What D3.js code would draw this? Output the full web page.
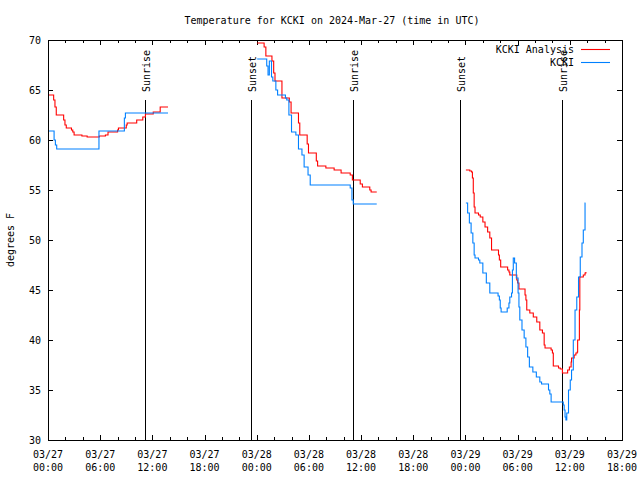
<!DOCTYPE html>
<html>
<head>
<meta charset="utf-8">
<script src="https://cdn.jsdelivr.net/npm/d3@7"></script>
<style>
  body { margin: 0; background: #fff; }
  text { font-family: "DejaVu Sans Mono", monospace; font-size: 10px; fill: #000; }
</style>
</head>
<body>
<div id="chart"></div>
<script>
//Hours after 2024-03-27 00:00 UTC, null breaks the line
var analysisHours = [0.0,0.65,0.8,0.95,1.8,1.95,2.1,2.7,2.85,3.0,3.9,4.5,5.9,6.6,6.9,8.0,8.1,9.0,9.1,10.2,10.9,11.2,12.1,12.9,13.8,
  null,
  24.05,24.85,25.05,25.75,25.95,26.1,26.9,27.75,27.95,28.8,28.95,29.8,29.95,30.85,31.0,31.95,32.9,33.7,34.75,35.0,35.9,36.15,37.0,37.15,37.8,
  null,
  48.05,48.5,48.7,48.8,48.9,49.0,49.1,49.5,49.7,50.0,50.25,50.55,50.8,51.0,51.8,51.9,52.05,52.85,53.0,53.1,53.9,54.0,54.15,54.85,54.95,55.05,
  55.4,55.8,56.2,56.55,56.85,57.05,57.15,57.85,58.0,58.1,58.7,58.9,59.15,59.75,59.95,60.15,60.2,60.5,60.7,60.85,60.9,61.1,61.15,61.55,61.75,61.85]
var analysisTemps = [64.5,64.0,63.3,62.5,62.0,61.5,61.2,61.0,60.8,60.5,60.4,60.3,60.4,60.5,60.8,61.0,61.2,61.5,61.7,62.0,62.3,62.6,62.8,63.3,63.3,
  null,
  69.7,69.3,68.4,67.9,66.7,65.9,64.2,63.8,62.7,61.7,60.5,59.6,58.7,57.9,57.4,57.2,57.0,56.7,56.5,56.0,55.6,55.3,55.0,54.8,54.8,
  null,
  57.0,56.9,56.8,56.2,54.7,53.3,52.7,52.5,52.3,51.8,51.3,50.8,50.2,49.0,48.5,48.0,47.3,47.0,46.8,46.5,46.0,45.7,45.1,44.5,44.0,43.0,
  42.7,42.3,41.8,41.0,40.7,39.5,39.2,39.0,38.7,37.4,37.2,37.1,36.7,37.0,37.3,37.8,38.2,38.5,38.7,38.8,40.0,43.0,46.3,46.5,46.7,46.8]

var obsHours = [0.0,0.7,0.85,1.0,5.86,8.78,8.9,13.8,
  null,
  24.05,25.15,25.3,25.45,25.7,25.85,26.2,26.4,27.3,27.45,27.7,28.0,28.5,28.8,29.2,29.45,29.9,30.15,34.75,34.95,35.1,37.8,
  null,
  48.05,48.25,48.45,48.65,48.85,49.0,49.1,49.5,49.65,50.0,50.4,50.8,51.75,51.9,52.0,52.1,52.8,53.0,53.1,53.3,53.4,53.5,53.65,53.85,
  54.05,54.15,54.25,54.5,54.75,54.95,55.15,55.35,55.75,56.15,56.55,56.75,57.55,57.7,57.85,59.25,59.35,59.45,59.55,59.65,59.85,
  60.05,60.2,60.4,60.6,60.8,61.0,61.2,61.4,61.55,61.75,61.8]
var obsTemps = [60.9,60.0,59.5,59.1,60.9,62.2,62.7,62.7,
  null,
  68.1,67.4,66.5,67.9,66.3,65.9,65.0,64.5,64.2,64.0,62.5,60.8,60.5,59.1,58.5,57.3,56.5,55.5,55.2,54.0,53.6,53.6,
  null,
  53.7,52.7,51.7,50.7,49.7,48.5,48.2,48.0,47.7,46.7,45.7,44.7,44.4,44.0,43.2,42.8,43.2,43.7,44.3,44.7,47.0,48.2,47.7,46.2,
  44.7,43.3,42.0,41.0,40.2,39.3,38.3,37.3,36.8,36.3,35.8,35.6,35.0,34.6,33.8,33.5,33.0,32.3,32.0,32.7,35.0,
  36.0,37.0,40.0,43.0,44.3,46.3,48.3,49.7,51.0,53.7,53.7]

//Sunrise and sunset times
var sunHours = [11.15, 23.34, 35.07, 47.37, 59.1]
var sunLabels = ["Sunrise", "Sunset", "Sunrise", "Sunset", "Sunrise"]

var yTicks = [30, 35, 40, 45, 50, 55, 60, 65, 70]
var xTickHours = [0, 6, 12, 18, 24, 30, 36, 42, 48, 54, 60, 66]

var seriesNames = ["KCKI Analysis", "KCKI"]
var seriesColors = ["#ff0000", "#0080ff"]

var width = 640
var height = 480
var margin = {top: 40, left: 48, right: 18, bottom: 40}
var start = Date.UTC(2024, 2, 27, 0)

function toDate(h) { return new Date(start + h * 3600000) }

var svg = d3.select("#chart")
  .append("svg")
  .attr("width", width)
  .attr("height", height)

var plotW = width - margin.left - margin.right
var plotH = height - margin.top - margin.bottom

var x = d3.scaleUtc()
  .domain([toDate(0), toDate(66)])
  .range([margin.left, margin.left + plotW])

var y = d3.scaleLinear()
  .domain([30, 70])
  .range([margin.top + plotH, margin.top])

//Title
svg.append("text")
  .attr("x", 332)
  .attr("y", 20)
  .attr("dy", "0.35em")
  .attr("text-anchor", "middle")
  .text("Temperature for KCKI on 2024-Mar-27 (time in UTC)")

//Y label
svg.append("text")
  .attr("transform", "translate(14,240) rotate(-90)")
  .attr("text-anchor", "middle")
  .text("degrees F")

//Ticks drawn inward on all four sides, like gnuplot
var tickG = svg.append("g").attr("stroke", "#000").attr("stroke-width", 1)

yTicks.forEach(function (t) {
  var yy = Math.round(y(t)) + 0.5
  tickG.append("line").attr("x1", x.range()[0]).attr("x2", x.range()[0] + 5).attr("y1", yy).attr("y2", yy)
  tickG.append("line").attr("x1", x.range()[1]).attr("x2", x.range()[1] - 5).attr("y1", yy).attr("y2", yy)
  svg.append("text")
    .attr("x", 41)
    .attr("y", y(t))
    .attr("dy", "0.35em")
    .attr("text-anchor", "end")
    .text(t)
})

d3.range(0, 67, 2).forEach(function (h) {
  var xx = Math.round(x(toDate(h))) + 0.5
  var len = (h % 6 == 0) ? 5 : 3
  tickG.append("line").attr("x1", xx).attr("x2", xx).attr("y1", y(30)).attr("y2", y(30) - len)
  tickG.append("line").attr("x1", xx).attr("x2", xx).attr("y1", y(70)).attr("y2", y(70) + len)
})

var fmtDay = d3.utcFormat("%m/%d")
var fmtHour = d3.utcFormat("%H:%M")
xTickHours.forEach(function (h) {
  var label = svg.append("text")
    .attr("x", x(toDate(h)))
    .attr("y", 454)
    .attr("text-anchor", "middle")
  label.append("tspan").attr("x", x(toDate(h))).attr("dy", "0.35em").text(fmtDay(toDate(h)))
  label.append("tspan").attr("x", x(toDate(h))).attr("dy", "1.3em").text(fmtHour(toDate(h)))
})

//Sunrise / sunset markers, label reads upward from just above the line
sunHours.forEach(function (h, i) {
  var xx = Math.round(x(toDate(h))) + 0.5
  svg.append("line")
    .attr("x1", xx).attr("x2", xx)
    .attr("y1", y(64)).attr("y2", y(30))
    .attr("stroke", "#000")
    .attr("stroke-width", 1)
  svg.append("text")
    .attr("transform", "translate(" + (xx + 4) + ",92) rotate(-90)")
    .attr("text-anchor", "start")
    .text(sunLabels[i])
})

//Series lines
function toPoints(hours, temps) {
  return hours.map(function (h, i) { return {h: h, t: temps[i]} })
}

var line = d3.line()
  .defined(function (d) { return d.h != null && d.t != null })
  .x(function (d) { return x(toDate(d.h)) })
  .y(function (d) { return y(d.t) })
  .curve(d3.curveStepAfter)

var seriesData = [toPoints(analysisHours, analysisTemps), toPoints(obsHours, obsTemps)]

seriesData.forEach(function (pts, i) {
  svg.append("path")
    .datum(pts)
    .attr("fill", "none")
    .attr("stroke", seriesColors[i])
    .attr("stroke-width", 1.1)
    .attr("d", line)
})

//Legend
seriesNames.forEach(function (name, i) {
  var ly = 49.5 + i * 13
  svg.append("text")
    .attr("x", 574)
    .attr("y", ly)
    .attr("dy", "0.35em")
    .attr("text-anchor", "end")
    .text(name)
  svg.append("line")
    .attr("x1", 581).attr("x2", 610)
    .attr("y1", ly).attr("y2", ly)
    .attr("stroke", seriesColors[i])
    .attr("stroke-width", 1.1)
})

//Frame
svg.append("rect")
  .attr("x", margin.left + 0.5)
  .attr("y", margin.top + 0.5)
  .attr("width", plotW)
  .attr("height", plotH)
  .attr("fill", "none")
  .attr("stroke", "#000")
  .attr("stroke-width", 1)
</script>
</body>
</html>
